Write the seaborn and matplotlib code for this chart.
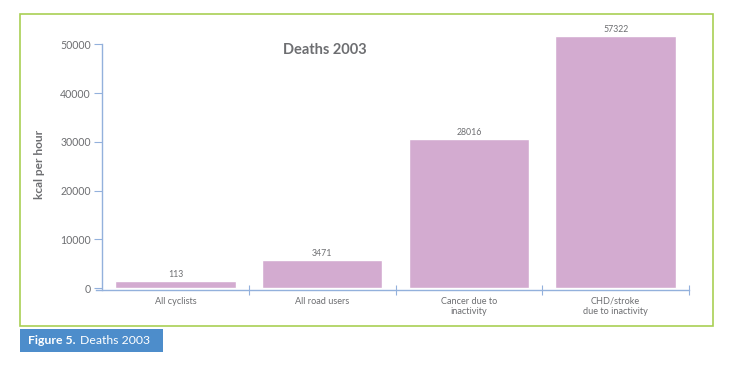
import matplotlib
matplotlib.use("Agg")
import matplotlib.pyplot as plt
import matplotlib.patches as mpatches
import pandas as pd
import seaborn as sns

categories = ["All cyclists", "All road users", "Cancer due to\ninactivity", "CHD/stroke\ndue to inactivity"]
bar_heights = [1400, 5700, 30600, 51800]
death_labels = ["113", "3471", "28016", "57322"]
y_ticks = [0, 10000, 20000, 30000, 40000, 50000]

BAR = "#d3abd0"
AXIS = "#93b1dc"
GREY = "#6d6e71"
GREEN = "#a9cf54"
BLUE = "#4d8dcb"

sns.set_theme(style="white")
plt.rcParams["font.family"] = ["Lato", "DejaVu Sans"]

df = pd.DataFrame({"category": categories, "deaths": bar_heights})

fig = plt.figure(figsize=(7.37, 3.74), dpi=100)
ax = fig.add_axes([0.1384, 0.2246, 0.7965, 0.7086])

sns.barplot(data=df, x="category", y="deaths", color=BAR, saturation=1,
            width=0.82, ax=ax)
ax.bar_label(ax.containers[0], labels=death_labels, padding=1.5,
             fontsize=6.3, color=GREY)

ax.set(xlim=(-0.5, 3.5), ylim=(-400, 54000), xlabel="", ylabel="")
ax.set_yticks(y_ticks)
ax.set_yticklabels([str(v) for v in y_ticks])
ax.set_xticks(range(len(categories)))
ax.set_xticklabels(categories, linespacing=1.1)
ax.set_xticks([0.5, 1.5, 2.5, 3.5], minor=True)

for side in ["top", "right"]:
    ax.spines[side].set_visible(False)
for side in ["left", "bottom"]:
    ax.spines[side].set_color(AXIS)
    ax.spines[side].set_linewidth(1.0)
ax.spines["left"].set_bounds(-400, 50000)
ax.spines["bottom"].set_bounds(-0.54, 3.5)

ax.tick_params(axis="y", direction="out", length=6, width=0.8, color=AXIS,
               labelcolor=GREY, labelsize=7.6, pad=2, left=True)
ax.tick_params(axis="x", which="major", length=0, labelcolor=GREY,
               labelsize=6.6, pad=5)
ax.tick_params(axis="x", which="minor", direction="inout", length=7,
               width=0.8, color=AXIS, bottom=True)
ax.grid(False)

fig.text(0.441, 0.866, "Deaths 2003", ha="center", va="center",
         fontsize=10.5, fontweight="bold", color=GREY)
fig.text(0.054, 0.561, "kcal per hour", ha="center", va="center",
         rotation=90, fontsize=8.6, fontweight="bold", color=GREY)

# green frame around the chart
fig.patches.append(mpatches.Rectangle((0.0271, 0.1283), 0.940, 0.834,
                                      transform=fig.transFigure, fill=False,
                                      edgecolor=GREEN, linewidth=1.2))
# caption box
fig.patches.append(mpatches.Rectangle((0.0271, 0.0588), 0.194, 0.0615,
                                      transform=fig.transFigure,
                                      facecolor=BLUE, edgecolor="none"))
fig.text(0.038, 0.0895, "Figure 5.", ha="left", va="center",
         fontsize=8.8, fontweight="bold", color="white")
fig.text(0.108, 0.0895, "Deaths 2003", ha="left", va="center",
         fontsize=8.8, color="white")

fig.savefig("out.png", dpi=100)
